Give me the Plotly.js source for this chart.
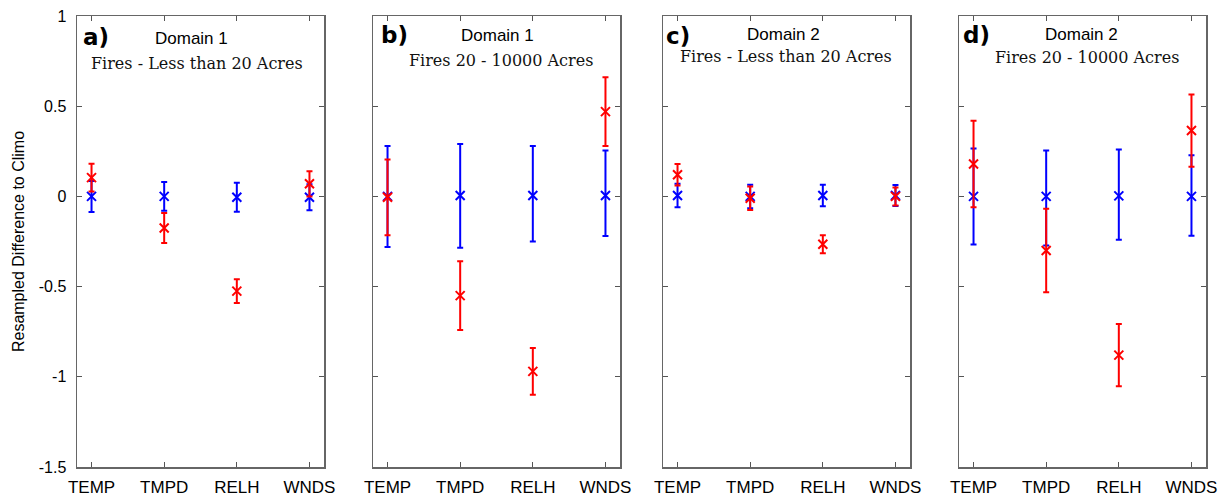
<!DOCTYPE html>
<html>
<head>
<meta charset="utf-8">
<script src="https://cdn.plot.ly/plotly-3.0.1.min.js"></script>
<style>html,body{margin:0;padding:0;background:#fff;}#chart{width:1228px;height:500px;}</style>
</head>
<body>
<div id="chart"></div>
<script>
// ---- data ----
const categories = ['TEMP', 'TMPD', 'RELH', 'WNDS'];
const catPos = [1, 2, 3, 4];

// panel a: Domain 1, fires < 20 acres
const aBlue = [0, 0, -0.005, -0.005];
const aBluePlus = [0.085, 0.08, 0.08, 0.072];
const aBlueMinus = [0.087, 0.08, 0.08, 0.072];
const aRed = [0.104, -0.175, -0.525, 0.07];
const aRedErr = [0.077, 0.083, 0.066, 0.07];

// panel b: Domain 1, fires 20 - 10000 acres
const bBlue = [0, 0.005, 0.005, 0.005];
const bBluePlus = [0.28, 0.285, 0.275, 0.25];
const bBlueMinus = [0.28, 0.29, 0.255, 0.225];
const bRed = [-0.005, -0.55, -0.97, 0.47];
const bRedErr = [0.21, 0.19, 0.13, 0.19];

// panel c: Domain 2, fires < 20 acres
const cBlue = [0.005, 0, 0.005, 0.005];
const cBlueErr = [0.065, 0.065, 0.06, 0.058];
const cRed = [0.12, -0.01, -0.265, 0];
const cRedErr = [0.06, 0.065, 0.05, 0.05];

// panel d: Domain 2, fires 20 - 10000 acres
const dBlue = [0, 0, 0.003, 0];
const dBluePlus = [0.265, 0.255, 0.257, 0.228];
const dBlueMinus = [0.267, 0.272, 0.243, 0.218];
const dRed = [0.18, -0.3, -0.88, 0.365];
const dRedErr = [0.24, 0.232, 0.173, 0.2];

const yTickVals = [1, 0.5, 0, -0.5, -1, -1.5];
const yTickText = ['1', '0.5', '0', '-0.5', '-1', '-1.5'];

const panelLetters = ['a)', 'b)', 'c)', 'd)'];
const panelDomains = ['Domain 1', 'Domain 1', 'Domain 2', 'Domain 2'];
const panelSubtitles = ['Fires - Less than 20 Acres', 'Fires 20 - 10000 Acres', 'Fires - Less than 20 Acres', 'Fires 20 - 10000 Acres'];
const yTitle = 'Resampled Difference to Climo';

// ---- style ----
const BLUE = '#0000ff', RED = '#ff0000';
const W = 1228, H = 500;
const panelPx = [[77, 324], [373, 620], [663, 910], [959, 1206]];
const topPx = 16, botPx = 467;
const sans = 'Liberation Sans, Arial, sans-serif';
const serif = 'DejaVu Serif, serif';

function errObj(plus, minus, color) {
  return {type: 'data', symmetric: false, array: plus, arrayminus: minus,
          color: color, thickness: 2, width: 3};
}
function series(y, plus, minus, color, idx) {
  const s = idx === 0 ? '' : String(idx + 1);
  return {x: catPos, y: y, type: 'scatter', mode: 'markers',
    xaxis: 'x' + s, yaxis: 'y' + s,
    marker: {symbol: 'x-thin', size: 9, color: color, line: {color: color, width: 2}},
    error_y: errObj(plus, minus, color), showlegend: false, hoverinfo: 'skip'};
}

const traces = [
  series(aBlue, aBluePlus, aBlueMinus, BLUE, 0),
  series(aRed, aRedErr, aRedErr, RED, 0),
  series(bBlue, bBluePlus, bBlueMinus, BLUE, 1),
  series(bRed, bRedErr, bRedErr, RED, 1),
  series(cBlue, cBlueErr, cBlueErr, BLUE, 2),
  series(cRed, cRedErr, cRedErr, RED, 2),
  series(dBlue, dBluePlus, dBlueMinus, BLUE, 3),
  series(dRed, dRedErr, dRedErr, RED, 3)
];

const layout = {
  width: W, height: H,
  margin: {l: 0, r: 0, t: 0, b: 0},
  paper_bgcolor: '#fff', plot_bgcolor: '#fff',
  showlegend: false,
  annotations: []
};
const ydom = [1 - botPx / H, 1 - topPx / H];
panelPx.forEach((p, i) => {
  const s = i === 0 ? '' : String(i + 1);
  layout['xaxis' + s] = {
    domain: [p[0] / W, p[1] / W], range: [0.8, 4.2], anchor: 'y' + s,
    tickvals: catPos, ticktext: categories,
    ticks: 'inside', ticklen: 5, tickwidth: 1.2, tickcolor: '#555',
    showline: true, linecolor: '#666', linewidth: 1.5, mirror: 'ticks',
    showgrid: false, zeroline: false, fixedrange: true,
    tickfont: {family: sans, size: 17, color: '#000'}, ticklabelstandoff: 4
  };
  layout['yaxis' + s] = {
    domain: ydom, range: [-1.5, 1], anchor: 'x' + s,
    tickvals: yTickVals, ticktext: i === 0 ? yTickText : yTickVals.map(() => ''),
    ticks: 'inside', ticklen: 5, tickwidth: 1.2, tickcolor: '#555',
    showline: true, linecolor: '#666', linewidth: 1.5, mirror: 'ticks',
    showgrid: false, zeroline: false, fixedrange: true,
    tickfont: {family: sans, size: 16, color: '#000'}, ticklabelstandoff: 6
  };
});
layout.yaxis.title = {text: yTitle, font: {family: sans, size: 16, color: '#000'}, standoff: 10};

// panel labels
const letterPx = [[81, 37], [379, 35], [664, 36], [961, 35]];
const domPx = [[192, 39], [497, 35], [784, 34], [1081, 34]];
const subPx = [[197, 63], [501, 60], [786, 57], [1087, 58]];
for (let i = 0; i < 4; i++) {
  layout.annotations.push({text: '<b>' + panelLetters[i] + '</b>', xref: 'paper', yref: 'paper',
    x: letterPx[i][0] / W, y: 1 - letterPx[i][1] / H, xanchor: 'left', yanchor: 'middle',
    showarrow: false, font: {family: 'DejaVu Sans, sans-serif', size: 23, color: '#000'}});
  layout.annotations.push({text: panelDomains[i], xref: 'paper', yref: 'paper',
    x: domPx[i][0] / W, y: 1 - domPx[i][1] / H, xanchor: 'center', yanchor: 'middle',
    showarrow: false, font: {family: sans, size: 17, color: '#000'}});
  layout.annotations.push({text: panelSubtitles[i], xref: 'paper', yref: 'paper',
    x: subPx[i][0] / W, y: 1 - subPx[i][1] / H, xanchor: 'center', yanchor: 'middle',
    showarrow: false, font: {family: serif, size: 16, color: '#111'}});
}

Plotly.newPlot('chart', traces, layout, {staticPlot: true, displayModeBar: false});
</script>
</body>
</html>
